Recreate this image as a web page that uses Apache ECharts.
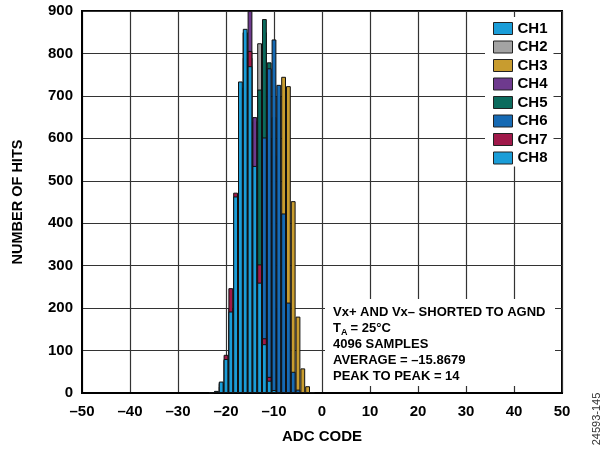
<!DOCTYPE html>
<html>
<head>
<meta charset="utf-8">
<script src="https://cdn.jsdelivr.net/npm/echarts@6/dist/echarts.min.js"></script>
<style>
html,body{margin:0;padding:0;background:#fff;}
#chart{width:608px;height:450px;}
</style>
</head>
<body>
<div id="chart"></div>
<script>
// ADC codes (bins)
var codes = [-23,-22,-21,-20,-19,-18,-17,-16,-15,-14,-13,-12,-11,-10,-9,-8,-7,-6,-5,-4,-3,-2];
// Number of hits per channel
var ch1 = [1,4,25,78,200,455,720,850,790,540,280,110,25,6,1,0,0,0,0,0,0,0];
var ch2 = [0,0,0,0,0,10,60,200,480,640,824,850,600,260,60,10,0,0,0,0,0,0];
var ch3 = [0,0,0,0,0,0,0,0,0,20,60,150,350,560,700,745,723,452,180,58,16,2];
var ch4 = [0,0,15,20,50,200,500,850,900,650,450,200,50,20,10,0,0,0,0,0,0,0];
var ch5 = [0,0,0,0,0,5,10,40,150,530,715,881,779,650,200,50,5,5,0,0,0,0];
var ch6 = [0,0,0,0,0,0,2,8,35,130,300,602,765,833,726,423,213,50,8,0,0,0];
var ch7 = [0,3,22,90,247,472,700,790,806,500,303,129,38,4,1,0,0,0,0,0,0,0];
var ch8 = [1,5,27,80,192,463,734,858,770,535,260,115,29,7,2,0,0,0,0,0,0,0];
var channelNames = ['CH1','CH2','CH3','CH4','CH5','CH6','CH7','CH8'];
var channelData = [ch1,ch2,ch3,ch4,ch5,ch6,ch7,ch8];
var channelColors = ['#1A9DD8','#A3A3A3','#C89C2F','#6E3A8E','#0B6B5D','#166AB4','#A0194A','#1A9DD8'];
var annotationLines = ['Vx+ AND Vx\u2013 SHORTED TO AGND','T','A',' = 25\u00B0C','4096 SAMPLES','AVERAGE = \u201315.8679','PEAK TO PEAK = 14'];

var chart = echarts.init(document.getElementById('chart'), null, {renderer:'canvas'});
var FONT = '"Liberation Sans", Arial, Helvetica, sans-serif';

var series = channelNames.map(function(name, k){
  var d = [];
  codes.forEach(function(c, i){ if (channelData[k][i] > 0) d.push([c, channelData[k][i]]); });
  return {
    name: name, type: 'bar', data: d,
    barWidth: 4.8, barGap: '-100%',
    itemStyle: {color: channelColors[k], borderColor: '#111', borderWidth: 1},
    animation: false
  };
});

var option = {
  backgroundColor: '#fff',
  animation: false,
  textStyle: {fontFamily: FONT},
  grid: {left: 82, right: 46, top: 11, bottom: 57, show: true, borderColor: '#000', borderWidth: 2, backgroundColor: 'transparent'},
  legend: {
    orient: 'vertical', left: 485, top: 17,
    padding: [4, 6, 1, 8],
    backgroundColor: '#fff',
    itemWidth: 19, itemHeight: 12, itemGap: 3.5,
    icon: 'rect',
    z: 10,
    itemStyle: {borderColor: '#222', borderWidth: 1},
    textStyle: {fontFamily: FONT, fontSize: 15, fontWeight: 'bold', color: '#000'},
    data: channelNames
  },
  xAxis: {
    type: 'value', min: -50, max: 50, interval: 10,
    axisLine: {show: true, onZero: false, lineStyle: {color: '#000', width: 2}},
    axisTick: {show: false},
    splitLine: {show: true, lineStyle: {color: '#333', width: 1.2}},
    axisLabel: {fontFamily: FONT, fontSize: 15, fontWeight: 'bold', color: '#000', margin: 11,
      formatter: function(v){ return String(v).replace('-', '\u2013'); }},
    name: 'ADC CODE', nameLocation: 'middle', nameGap: 36,
    nameTextStyle: {fontFamily: FONT, fontSize: 15, fontWeight: 'bold', color: '#000'}
  },
  yAxis: {
    type: 'value', min: 0, max: 900, interval: 100,
    axisLine: {show: true, onZero: false, lineStyle: {color: '#000', width: 2}},
    axisTick: {show: false},
    splitLine: {show: true, lineStyle: {color: '#333', width: 1.2}},
    axisLabel: {fontFamily: FONT, fontSize: 15, fontWeight: 'bold', color: '#000', margin: 9},
    name: 'NUMBER OF HITS', nameLocation: 'middle', nameGap: 57,
    nameTextStyle: {fontFamily: FONT, fontSize: 14.5, fontWeight: 'bold', color: '#000'}
  },
  graphic: [
    {type: 'rect', shape: {x: 325, y: 299, width: 230, height: 87}, style: {fill: '#fff'}, z: 50},
    {type: 'text', x: 333, y: 312.5, z: 51, style: {text: annotationLines[0], font: 'bold 13px ' + FONT, fill: '#000', textVerticalAlign: 'middle'}},
    {type: 'text', x: 333, y: 328.5, z: 51, style: {text: annotationLines[1], font: 'bold 13px ' + FONT, fill: '#000', textVerticalAlign: 'middle'}},
    {type: 'text', x: 341, y: 332.5, z: 51, style: {text: annotationLines[2], font: 'bold 9px ' + FONT, fill: '#000', textVerticalAlign: 'middle'}},
    {type: 'text', x: 347, y: 328.5, z: 51, style: {text: annotationLines[3], font: 'bold 13px ' + FONT, fill: '#000', textVerticalAlign: 'middle'}},
    {type: 'text', x: 333, y: 344.5, z: 51, style: {text: annotationLines[4], font: 'bold 13px ' + FONT, fill: '#000', textVerticalAlign: 'middle'}},
    {type: 'text', x: 333, y: 360.5, z: 51, style: {text: annotationLines[5], font: 'bold 13px ' + FONT, fill: '#000', textVerticalAlign: 'middle'}},
    {type: 'text', x: 333, y: 376.5, z: 51, style: {text: annotationLines[6], font: 'bold 13px ' + FONT, fill: '#000', textVerticalAlign: 'middle'}},
    {type: 'text', x: 597, y: 419, rotation: Math.PI / 2, z: 51,
      style: {text: '24593-145', font: '11px ' + FONT, fill: '#333', textAlign: 'center', textVerticalAlign: 'middle'}}
  ],
  series: series
};
chart.setOption(option);
</script>
</body>
</html>
